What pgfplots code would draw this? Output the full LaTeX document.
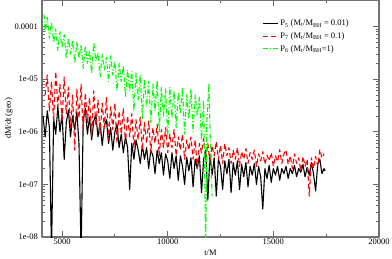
\documentclass[border=0pt]{standalone}
\usepackage{pgfplots}
\pgfplotsset{compat=1.18}
\usepackage{fontspec}
\setmainfont{Liberation Serif}
\definecolor{gg}{RGB}{0,255,0}
\definecolor{rr}{RGB}{255,0,0}
\begin{document}
\fontsize{8.5}{10}\selectfont
\begin{tikzpicture}
\begin{axis}[
  name=ax,
  scale only axis, width=337pt, height=237pt,
  ymode=log, xmin=4050, xmax=20000, ymin=1e-8, ymax=3.2e-4,
  scaled x ticks=false,
  xtick={5000,10000,15000,20000}, xticklabels={5000,10000,15000,20000},
  minor xtick={7500,12500,17500},
  ytick={1e-8,1e-7,1e-6,1e-5,1e-4},
  yticklabels={1e-08,1e-07,1e-06,1e-05,0.0001},
  yminorticks=true,
  tick align=inside, major tick length=6pt, minor tick length=3pt,
  every tick/.style={black!60, line width=0.8pt},
  axis line style={black!55, line width=1.2pt},
  xticklabel style={font=\fontsize{8.5}{10}\selectfont, yshift=1.5pt},
  yticklabel style={font=\fontsize{8.5}{10}\selectfont, xshift=-1pt},
  xlabel={t/M}, ylabel={dM/dt (geo)},
  xlabel style={font=\fontsize{8.5}{10}\selectfont, yshift=0.5pt},
  ylabel style={font=\fontsize{8.5}{10}\selectfont, yshift=-4pt},
  legend style={draw=none, fill=none, at={(0.653,0.925)}, anchor=north west,
    font=\fontsize{8.5}{10}\selectfont, row sep=1.5pt, inner sep=0pt},
  legend cell align=left,
  legend image code/.code={\draw[#1] (0pt,0pt) -- (15pt,0pt);},
  line join=round,
]
\addplot[black, line width=1.1pt] coordinates {
(4100,2.0e-6)(4200,8e-7)(4300,2.5e-6)(4400,1.2e-6)(4500,5e-9)(4600,1.8e-6)(4700,9e-7)(4800,3.0e-6)(4900,1.0e-6)(5000,2.2e-6)
(5100,3e-7)(5200,1.5e-6)(5300,2.6e-6)(5400,8e-7)(5500,2.0e-6)(5600,1.1e-6)(5700,2.4e-6)(5800,6e-7)(5900,5e-9)(6000,1.6e-6)
(6100,2.8e-6)(6200,9e-7)(6300,1.9e-6)(6400,7e-7)(6500,1.6e-6)(6600,2.1e-6)(6700,8e-7)(6800,1.5e-6)(6900,5.5e-7)(7000,1.3e-6)
(7100,1.7e-6)(7200,6e-7)(7300,1.2e-6)(7400,4.5e-7)(7500,1.0e-6)(7600,1.4e-6)(7700,5e-7)(7800,9e-7)(7900,4e-7)(8000,8e-7)
(8100,5e-7)(8200,8e-8)(8300,6e-7)(8400,3e-7)(8500,7e-7)(8600,4.5e-7)(8700,2.5e-7)(8800,5.5e-7)(8900,3e-7)(9000,5e-7)
(9100,2e-7)(9200,4.5e-7)(9300,3.5e-7)(9400,1.6e-7)(9500,4.5e-7)(9600,2.5e-7)(9700,4e-7)(9800,1.5e-7)(9900,3.8e-7)(10000,2.8e-7)
(10100,1.3e-7)(10200,4e-7)(10300,2e-7)(10400,3.5e-7)(10500,1.2e-7)(10600,3.5e-7)(10700,2.2e-7)(10800,1.0e-7)(10900,3.3e-7)(11000,1.8e-7)
(11100,3.2e-7)(11200,9e-8)(11300,3e-7)(11400,2e-7)(11500,3.5e-7)(11600,7e-8)(11700,3e-7)(11800,4.5e-7)(11900,5e-8)(12000,3.8e-7)
(12100,1.5e-7)(12200,3.2e-7)(12300,6e-8)(12400,3e-7)(12500,2.2e-7)(12600,8e-8)(12700,2.8e-7)(12800,1.6e-7)(12900,3e-7)(13000,7e-8)
(13100,2.6e-7)(13200,1.5e-7)(13300,2.8e-7)(13400,8e-8)(13500,2.4e-7)(13600,1.4e-7)(13700,2.6e-7)(13800,9e-8)(13900,2.2e-7)(14000,1.5e-7)
(14100,2.5e-7)(14200,1.0e-7)(14300,2.2e-7)(14400,1.4e-7)(14500,3.4e-8)(14600,2.0e-7)(14700,1.3e-7)(14800,2.3e-7)(14900,1.1e-7)(15000,2.0e-7)
(15100,1.5e-7)(15200,2.2e-7)(15300,1.2e-7)(15400,2.0e-7)(15500,1.6e-7)(15600,2.2e-7)(15700,1.3e-7)(15800,2.0e-7)(15900,1.6e-7)(16000,2.3e-7)
(16100,1.4e-7)(16200,2.0e-7)(16300,1.7e-7)(16400,2.4e-7)(16500,1.4e-7)(16600,2.1e-7)(16700,1.5e-7)(16800,2.6e-7)(16900,1.6e-7)(17000,7.5e-8)
(17100,2.4e-7)(17200,3.0e-7)(17300,1.6e-7)(17400,2.0e-7)(17450,1.8e-7)
};
\addlegendentry{P\textsubscript{5} (M\textsubscript{t}/M\textsubscript{BH} = 0.01)}
\addplot[rr, line width=1.1pt, dash pattern=on 5pt off 3pt] coordinates {
(4200,5e-6)(4300,1.2e-5)(4400,2.5e-6)(4500,9e-6)(4600,1.6e-6)(4700,1.4e-5)(4800,3e-6)(4900,8e-6)(5000,1.5e-6)
(5100,1.1e-5)(5200,2.2e-6)(5300,7e-6)(5400,1.2e-6)(5500,5e-6)(5600,4.5e-7)(5700,6.5e-6)(5800,1.8e-6)(5900,8e-6)(6000,1.0e-6)
(6100,5.5e-6)(6200,1.5e-6)(6300,4.5e-6)(6400,8e-7)(6500,6e-6)(6600,1.3e-6)(6700,4e-6)(6800,9e-7)(6900,3.5e-6)(7000,1.2e-6)
(7100,4.5e-6)(7200,7e-7)(7300,3e-6)(7400,1.1e-6)(7500,3.5e-6)(7600,6e-7)(7700,2.5e-6)(7800,9e-7)(7900,2.8e-6)(8000,6e-7)
(8100,2e-6)(8200,8e-7)(8300,2.2e-6)(8400,5e-7)(8500,1.7e-6)(8600,7e-7)(8700,1.9e-6)(8800,4.5e-7)(8900,1.5e-6)(9000,6e-7)
(9100,1.6e-6)(9200,4e-7)(9300,1.2e-6)(9400,6e-7)(9500,1.4e-6)(9600,3.5e-7)(9700,1.1e-6)(9800,5e-7)(9900,1.2e-6)(10000,4e-7)
(10100,9e-7)(10200,5e-7)(10300,1.1e-6)(10400,3.5e-7)(10500,8e-7)(10600,4.5e-7)(10700,9e-7)(10800,3e-7)(10900,7e-7)(11000,4.5e-7)
(11100,8e-7)(11200,3e-7)(11300,7e-7)(11400,2e-7)(11500,6e-7)(11600,4e-7)(11700,7.5e-7)(11800,3e-7)(11900,6e-7)(12000,2.5e-7)
(12100,5.5e-7)(12200,3.5e-7)(12300,6.5e-7)(12400,3e-7)(12500,5.5e-7)(12600,2.5e-7)(12700,6e-7)(12800,3.5e-7)(12900,5e-7)(13000,2.5e-7)
(13100,4.5e-7)(13200,3e-7)(13300,5e-7)(13400,2.2e-7)(13500,4.2e-7)(13600,3e-7)(13700,4.8e-7)(13800,2.5e-7)(13900,4e-7)(14000,3e-7)
(14100,4.5e-7)(14200,2.2e-7)(14300,3.8e-7)(14400,2.8e-7)(14500,4.2e-7)(14600,2.4e-7)(14700,3.6e-7)(14800,2.8e-7)(14900,4e-7)(15000,2.2e-7)
(15100,3.5e-7)(15200,2.7e-7)(15300,4.6e-7)(15400,2.5e-7)(15500,3.8e-7)(15600,4.5e-7)(15700,2.4e-7)(15800,3.5e-7)(15900,2e-7)(16000,3.8e-7)
(16100,2.5e-7)(16200,3.2e-7)(16300,1.8e-7)(16400,3.4e-7)(16500,2.2e-7)(16600,3e-7)(16700,6e-8)(16800,3.2e-7)(16900,2e-7)(17000,3.4e-7)
(17100,2.2e-7)(17200,4.6e-7)(17300,3.2e-7)(17400,3.8e-7)
};
\addlegendentry{P\textsubscript{7} (M\textsubscript{t}/M\textsubscript{BH} = 0.1)}
\addplot[gg, line width=1.1pt, dash pattern=on 5pt off 2pt on 1pt off 2pt] coordinates {
(4150,1.7e-4)(4200,8e-5)(4300,1.5e-4)(4400,6e-5)(4500,1.2e-4)(4600,5e-5)(4700,9e-5)(4800,3.5e-5)(4900,8e-5)(5000,4e-5)
(5100,7e-5)(5200,2.5e-5)(5300,6e-5)(5400,3e-5)(5500,5.5e-5)(5600,2e-5)(5700,5e-5)(5800,2.5e-5)(5900,4.5e-5)(6000,1.6e-5)
(6100,4.2e-5)(6200,2e-5)(6300,3.5e-5)(6400,1.3e-5)(6500,5e-5)(6600,2.2e-5)(6700,3.2e-5)(6800,1.1e-5)(6900,3e-5)(7000,1.5e-5)
(7100,2.6e-5)(7200,9e-6)(7300,2.8e-5)(7400,1.2e-5)(7500,2.2e-5)(7600,6e-6)(7700,2e-5)(7800,9e-6)(7900,1.8e-5)(8000,4.6e-6)
(8100,1.5e-5)(8200,6e-6)(8300,1.4e-5)(8400,2.5e-6)(8500,1.3e-5)(8600,4e-6)(8700,1.2e-5)(8800,1.8e-6)(8900,1.0e-5)(9000,3e-6)
(9100,9e-6)(9200,1.5e-6)(9300,8e-6)(9400,2.5e-6)(9500,9.5e-6)(9600,1.0e-6)(9700,7e-6)(9800,2e-6)(9900,6.5e-6)(10000,8e-7)
(10100,7e-6)(10200,1.8e-6)(10300,6e-6)(10400,1.2e-6)(10500,5.5e-6)(10600,2.2e-6)(10700,7e-6)(10800,9e-7)(10900,5e-6)(11000,1.8e-6)
(11100,6.5e-6)(11200,1.0e-6)(11300,5e-6)(11400,2e-6)(11500,4.5e-6)(11600,7e-7)(11700,4e-6)(11800,5e-9)(11850,1.5e-6)(11950,8.5e-6)
(12000,1.2e-6)(12100,6e-8)
};
\addlegendentry{P\textsubscript{6} (M\textsubscript{t}/M\textsubscript{BH}=1)}
\end{axis}
\pgfresetboundingbox
\path ([shift={(-42pt,-22pt)}]ax.south west) rectangle ([shift={(13pt,0pt)}]ax.north east);
\end{tikzpicture}
\end{document}
